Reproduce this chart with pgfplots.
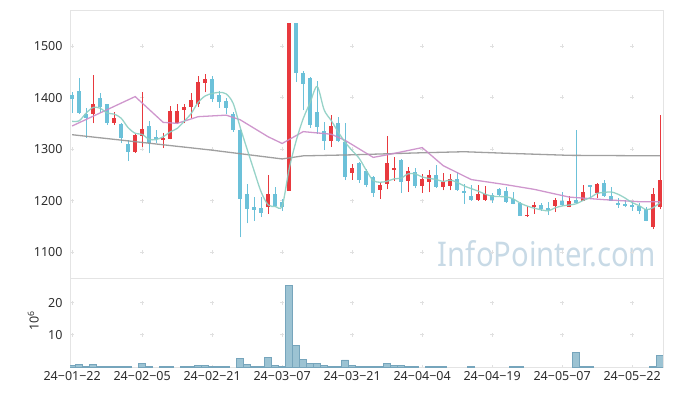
\documentclass[border=0pt]{standalone}
\usepackage{fontspec}
\setmainfont{Noto Sans}
\usepackage{pgfplots}
\usepackage{pgfplotstable}
\pgfplotsset{compat=1.18}
\definecolor{cUp}{RGB}{232,57,62}
\definecolor{cDn}{RGB}{108,193,217}
\definecolor{cMAf}{RGB}{140,206,194}
\definecolor{cMAt}{RGB}{202,140,200}
\definecolor{cMAl}{RGB}{150,150,150}
\definecolor{cFrame}{RGB}{228,228,228}
\definecolor{cGrid}{RGB}{224,224,224}
\definecolor{cVol}{RGB}{156,195,211}
\definecolor{cVolEdge}{RGB}{118,165,188}
\definecolor{cWater}{RGB}{200,218,230}
\definecolor{cText}{RGB}{45,45,45}

\pgfplotstableread{
i o h l c
3 1369 1444 1350 1387
6 1351 1372 1347 1360
9 1295 1330 1293 1327
10 1325 1411 1305 1340
13 1319 1331 1302 1322
14 1320 1383 1319 1374
15 1350 1387 1349 1374
16 1376 1387 1350 1381
17 1381 1409 1360 1395
18 1388 1442 1381 1430
19 1429 1445 1410 1436
28 1187 1250 1175 1213
31 1219 1544 1219 1544
37 1316 1367 1305 1345
40 1253 1272 1241 1263
44 1220 1237 1204 1230
45 1233 1325 1222 1273
46 1260 1285 1238 1264
48 1238 1266 1217 1257
50 1229 1252 1215 1243
51 1237 1259 1216 1250
53 1227 1254 1220 1237
54 1229 1252 1220 1243
58 1201 1230 1200 1213
59 1201 1229 1200 1213
65 1170 1189 1169 1173
66 1187 1198 1175 1191
69 1190 1206 1178 1201
71 1188 1209 1187 1200
73 1200 1230 1199 1216
75 1215 1234 1206 1233
83 1149 1224 1145 1213
84 1188 1366 1183 1240
}\upTable

\pgfplotstableread{
i o h l c
0 1405 1410 1370 1398
1 1413 1439 1368 1370
2 1369 1380 1322 1361
4 1400 1408 1371 1381
5 1387 1388 1347 1351
7 1349 1350 1311 1321
8 1310 1317 1277 1295
11 1345 1354 1292 1312
12 1324 1337 1312 1319
20 1436 1441 1392 1398
21 1405 1413 1380 1392
22 1393 1400 1369 1380
23 1369 1372 1334 1338
24 1338 1340 1129 1204
25 1213 1233 1156 1184
26 1188 1208 1161 1182
27 1185 1207 1168 1176
29 1213 1226 1187 1189
30 1198 1203 1180 1188
32 1544 1544 1431 1447
33 1447 1452 1375 1427
34 1439 1440 1342 1347
35 1372 1433 1330 1343
36 1336 1352 1299 1316
38 1350 1363 1313 1316
39 1314 1350 1240 1246
41 1274 1275 1234 1241
42 1258 1262 1226 1230
43 1245 1248 1208 1215
47 1279 1280 1215 1237
49 1255 1263 1224 1229
52 1250 1270 1225 1227
55 1243 1255 1219 1220
56 1218 1232 1194 1216
57 1209 1230 1200 1201
60 1211 1215 1196 1201
61 1222 1225 1210 1212
62 1218 1227 1196 1198
63 1204 1216 1193 1194
64 1196 1197 1170 1171
67 1191 1196 1180 1183
68 1185 1197 1172 1183
70 1199 1216 1190 1191
72 1201 1338 1194 1195
74 1229 1231 1203 1227
76 1235 1240 1208 1209
77 1209 1227 1199 1200
78 1195 1205 1186 1193
79 1194 1201 1187 1190
80 1191 1198 1180 1189
81 1189 1196 1174 1180
82 1183 1188 1160 1161
}\dnTable

\pgfplotstableread{
i m
0 1354
1 1355
2 1370
3 1381
4 1379.4
5 1370.0
6 1368.0
7 1360.0
8 1341.6
9 1330.8
10 1328.6
11 1319.0
12 1318.6
13 1324.0
14 1333.4
15 1340.2
16 1354.0
17 1369.2
18 1390.8
19 1403.2
20 1408.0
21 1410.2
22 1407.2
23 1388.8
24 1342.4
25 1299.6
26 1257.6
27 1216.8
28 1191.8
29 1188.8
30 1189.6
31 1262.0
32 1316.2
33 1359.0
34 1390.6
35 1421.6
36 1376.0
37 1355.6
38 1333.4
39 1313.2
40 1297.2
41 1282.2
42 1259.2
43 1239.0
44 1235.8
45 1237.8
46 1242.4
47 1243.8
48 1252.2
49 1252.0
50 1246.0
51 1243.2
52 1241.2
53 1237.2
54 1240.0
55 1235.4
56 1228.6
57 1223.4
58 1218.6
59 1212.6
60 1208.8
61 1208.0
62 1207.4
63 1203.6
64 1195.2
65 1189.6
66 1185.4
67 1182.4
68 1180.2
69 1186.2
70 1189.8
71 1191.6
72 1194.0
73 1200.6
74 1205.8
75 1214.2
76 1216.0
77 1217.0
78 1212.4
79 1205.0
80 1196.2
81 1190.4
82 1182.6
83 1186.6
84 1196.6
}\maFive

\pgfplotstableread{
i m
0 1345
9 1402
13 1352
15 1350
18 1363
22 1366
24 1357
28 1324
30 1311
33 1334
37 1329
39 1317
43 1284
45 1289
50 1303
53 1268
57 1241
62 1231
66 1222
71 1207
76 1202
81 1198
84 1198
}\maTwenty

\pgfplotstableread{
i m
0 1328
20 1298
30 1281
33 1287
40 1289
50 1293
56 1295
62 1292
71 1288
84 1287
}\maLong

\pgfplotstableread{
i v
0 0.5
1 0.9
2 0.3
3 0.9
4 0.3
5 0.3
6 0.3
7 0.3
8 0.3
10 1.2
11 0.4
13 0.3
14 0.3
16 0.3
17 0.3
18 0.6
19 0.6
20 0.3
21 0.3
22 0.3
24 2.8
25 0.9
26 0.3
27 0.3
28 3.1
29 0.7
30 0.3
31 25.2
32 6.8
33 2.5
34 1.2
35 1.2
36 0.7
37 0.3
38 0.3
39 2.3
40 0.7
41 0.3
42 0.3
43 0.3
44 0.3
45 1.3
46 0.7
47 0.7
48 0.3
49 0.3
51 0.3
52 0.3
53 0.3
57 0.3
63 0.3
64 0.3
72 4.7
73 0.3
74 0.3
83 0.3
84 3.7
}\volTable

\begin{document}
\begin{tikzpicture}
\useasboundingbox (0,0) rectangle (673pt,396pt);
\node[text=cWater, font=\fontsize{34}{34}\selectfont, xscale=0.86, anchor=center] at (547pt,142pt) {InfoPointer.com};
\begin{axis}[
  at={(70pt,118pt)}, anchor=south west,
  scale only axis, width=593pt, height=268pt,
  xmin=-0.31, xmax=84.4, ymin=1050, ymax=1570,
  axis line style={cFrame, line width=0.8pt},
  xtick={0,10,...,80}, xticklabels={},
  ytick={1100,1200,1300,1400,1500},
  major tick length=0pt,
  grid=major,
  x grid style={cGrid, line width=1pt, dash pattern=on 4pt off 47.58pt, dash phase=27.79pt},
  y grid style={cGrid, line width=1pt, dash pattern=on 4pt off 66pt, dash phase=69.8pt},
  tick label style={font=\fontsize{12.5}{14}\selectfont, text=cText},
  yticklabel style={xshift=-4pt},
  /pgf/number format/assume math mode=true,
  /pgf/number format/1000 sep={},
]
% wicks
\addplot[draw=none, mark=none, forget plot,
  error bars/.cd, y dir=plus, y explicit, error mark=none,
  error bar style={draw=cUp, line width=1.2pt}]
  table[x=i, y=l, y error plus expr=\thisrow{h}-\thisrow{l}] {\upTable};
\addplot[draw=none, mark=none, forget plot,
  error bars/.cd, y dir=plus, y explicit, error mark=none,
  error bar style={draw=cDn, line width=1.2pt}]
  table[x=i, y=l, y error plus expr=\thisrow{h}-\thisrow{l}] {\dnTable};
% bodies
\addplot[draw=none, mark=none, forget plot,
  error bars/.cd, y dir=both, y explicit, error mark=none,
  error bar style={draw=cUp, line width=4.6pt}]
  table[x=i, y expr=(\thisrow{o}+\thisrow{c})/2, y error expr={max(abs(\thisrow{c}-\thisrow{o})/2,1.5)}] {\upTable};
\addplot[draw=none, mark=none, forget plot,
  error bars/.cd, y dir=both, y explicit, error mark=none,
  error bar style={draw=cDn, line width=4.6pt}]
  table[x=i, y expr=(\thisrow{o}+\thisrow{c})/2, y error expr={max(abs(\thisrow{c}-\thisrow{o})/2,1.5)}] {\dnTable};
% moving averages
\addplot[cMAl, line width=1.3pt, mark=none, opacity=0.9] table[x=i,y=m]{\maLong};
\addplot[cMAt, line width=1.3pt, mark=none, opacity=0.9] table[x=i,y=m]{\maTwenty};
\addplot[cMAf, line width=1.3pt, mark=none, smooth, opacity=0.9] table[x=i,y=m]{\maFive};
\end{axis}
\begin{axis}[
  at={(70pt,28.7pt)}, anchor=south west,
  scale only axis, width=593pt, height=89.3pt,
  xmin=-0.31, xmax=84.4, ymin=0, ymax=27.6,
  axis line style={cFrame, line width=0.8pt},
  xtick={0,10,...,80},
  xticklabels={24−01−22,24−02−05,24−02−21,24−03−07,24−03−21,24−04−04,24−04−19,24−05−07,24−05−22},
  ytick={10,20},
  major tick length=0pt,
  grid=major,
  x grid style={cGrid, line width=1pt, dash pattern=on 4pt off 28.35pt, dash phase=2pt},
  y grid style={cGrid, line width=1pt, dash pattern=on 4pt off 66pt, dash phase=69.8pt},
  tick label style={font=\fontsize{12.5}{14}\selectfont, text=cText},
  yticklabel style={xshift=-4pt},
  xticklabel style={yshift=-1pt},
  /pgf/number format/assume math mode=true,
  ylabel={10\textsuperscript{6}},
  ylabel style={at={(axis description cs:-0.062,0.52)}, anchor=center, font=\fontsize{12.5}{14}\selectfont, text=cText},
]
\addplot[ybar, bar width=7pt, fill=cVol, draw=cVolEdge, line width=0.6pt] table[x=i,y=v]{\volTable};
\end{axis}
\end{tikzpicture}
\end{document}
